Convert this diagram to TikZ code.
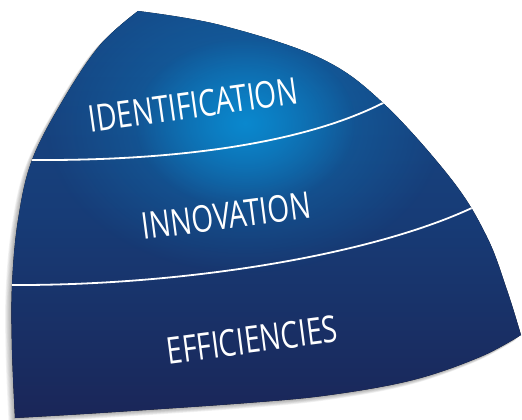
\documentclass[tikz,border=0pt]{standalone}
\usepackage{fontspec}
\newfontfamily\lblfont{Open Sans}[FakeStretch=0.76]
\usetikzlibrary{fadings}
\definecolor{navytop}{HTML}{164A88}
\definecolor{navymid}{HTML}{173C77}
\definecolor{navybot}{HTML}{1A2658}
\definecolor{glowblue}{HTML}{0A88CE}
\tikzfading[name=glowfade, inner color=transparent!0, outer color=transparent!100]
\tikzset{
  sepline/.style={white, line width=1.8pt},
  lbl/.style={white, font=\lblfont\fontsize{37}{37}\selectfont, anchor=base, inner sep=0pt}
}
\def\wedgepath{(138,11) -- plot[smooth, tension=0.6] coordinates {(138,11) (220,25) (320,58) (383,103) (452,180) (487,237) (507,290) (521,335)}
 -- plot[smooth, tension=0.6] coordinates {(521,335) (480,357) (413,380) (330,395) (247,403) (100,413) (15,418)}
 -- plot[smooth, tension=0.6] coordinates {(15,418) (12,350) (12,285) (18,220) (32,160) (63,100) (100,45) (138,11)} -- cycle}
\begin{document}
\begin{tikzpicture}[x=1pt, y=-1pt]
\useasboundingbox (0,0) rectangle (522,420);
% soft shadow
\foreach \k in {1,...,7}{
  \fill[black, opacity=0.05, shift={(-0.9*\k,0.8*\k)}] \wedgepath;
}
% body
\fill[top color=navytop, bottom color=navybot, middle color=navymid] \wedgepath;
\begin{scope}
  \clip \wedgepath;
  \fill[glowblue, path fading=glowfade, opacity=0.55] (245,123) ellipse (200 and 150);
  \fill[glowblue, path fading=glowfade] (245,123) ellipse (110 and 85);
  \coordinate (s1a) at (15,160);
  \coordinate (s1b) at (395,97);
  \coordinate (s2a) at (0,285);
  \coordinate (s2b) at (490,199);
  \draw[sepline] (s1a) -- (30,160) .. controls (170,161) and (300,145) .. (383,103) -- (s1b);
  \draw[sepline] (s2a) -- (9,285) .. controls (180,286) and (370,256) .. (474,207) -- (s2b);
\end{scope}
\node[lbl, rotate=8] (ident) at (195,118) {IDENTIFICATION};
\node[lbl, rotate=7.4] (innov) at (228,229) {INNOVATION};
\node[lbl, rotate=7.4] (effic) at (254,353) {EFFICIENCIES};
\end{tikzpicture}
\end{document}
